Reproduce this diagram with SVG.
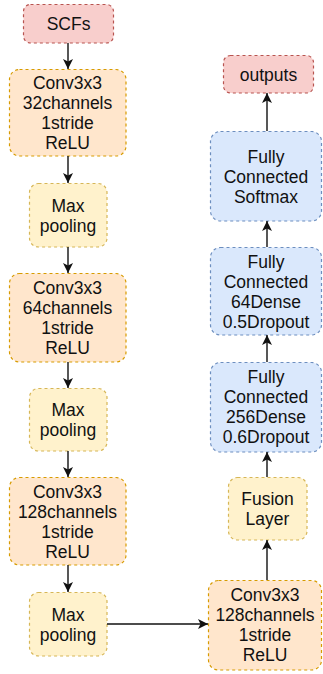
<svg xmlns="http://www.w3.org/2000/svg" width="323" height="674" viewBox="0 0 323 674">
  <defs>
    <style>
      .box { stroke-width: 1.2; stroke-dasharray: 3 3; }
      .io { fill: #f8cecc; stroke: #b85450; }
      .conv { fill: #ffe6cc; stroke: #d79b00; }
      .pool { fill: #fff2cc; stroke: #d6b656; }
      .fc { fill: #dae8fc; stroke: #6c8ebf; }
      text { font-family: "Liberation Sans", Arial, Helvetica, sans-serif; font-size: 17.5px; fill: #111; text-anchor: middle; }
      .edge { fill: none; stroke: #111; stroke-width: 1.4; marker-end: url(#arrow); }
    </style>
    <marker id="arrow" markerUnits="userSpaceOnUse" markerWidth="11" markerHeight="10" refX="10" refY="5" orient="auto">
      <path d="M0,0 L10,5 L0,10 L2.5,5 Z" fill="#111"/>
    </marker>
  </defs>

  <!-- left column: convolution / pooling stack -->
  <g id="scfs">
    <rect class="box io" x="23.5" y="4.5" width="90" height="38.5" rx="7"/>
    <text x="68.5" y="30">SCFs</text>
  </g>
  <g id="conv1">
    <rect class="box conv" x="9.5" y="69.5" width="116.5" height="86.5" rx="10"/>
    <text x="67.5" y="89">Conv3x3</text>
    <text x="67.5" y="109">32channels</text>
    <text x="67.5" y="129">1stride</text>
    <text x="67.5" y="149">ReLU</text>
  </g>
  <g id="pool1">
    <rect class="box pool" x="29.5" y="183.5" width="77.5" height="63.5" rx="9"/>
    <text x="68" y="211.5">Max</text>
    <text x="68" y="231.5">pooling</text>
  </g>
  <g id="conv2">
    <rect class="box conv" x="9.5" y="273.5" width="116.5" height="88.5" rx="10"/>
    <text x="67.5" y="294">Conv3x3</text>
    <text x="67.5" y="314">64channels</text>
    <text x="67.5" y="334">1stride</text>
    <text x="67.5" y="354">ReLU</text>
  </g>
  <g id="pool2">
    <rect class="box pool" x="29.5" y="388.5" width="77.5" height="62.5" rx="9"/>
    <text x="68" y="416">Max</text>
    <text x="68" y="436">pooling</text>
  </g>
  <g id="conv3">
    <rect class="box conv" x="9.5" y="477.5" width="116.5" height="87.5" rx="10"/>
    <text x="67.5" y="497.5">Conv3x3</text>
    <text x="67.5" y="517.5">128channels</text>
    <text x="67.5" y="537.5">1stride</text>
    <text x="67.5" y="557.5">ReLU</text>
  </g>
  <g id="pool3">
    <rect class="box pool" x="29.5" y="592.5" width="77.5" height="63.5" rx="9"/>
    <text x="68" y="620.5">Max</text>
    <text x="68" y="640.5">pooling</text>
  </g>

  <!-- right column: fusion and dense layers -->
  <g id="conv4">
    <rect class="box conv" x="208.5" y="580.5" width="113" height="89.5" rx="10"/>
    <text x="265" y="601">Conv3x3</text>
    <text x="265" y="621">128channels</text>
    <text x="265" y="641">1stride</text>
    <text x="265" y="661">ReLU</text>
  </g>
  <g id="fusion">
    <rect class="box pool" x="228.5" y="477.5" width="78.5" height="62.5" rx="9"/>
    <text x="267.5" y="505">Fusion</text>
    <text x="267.5" y="525">Layer</text>
  </g>
  <g id="fc256">
    <rect class="box fc" x="210.5" y="362.5" width="111" height="89.5" rx="10"/>
    <text x="266" y="383">Fully</text>
    <text x="266" y="403">Connected</text>
    <text x="266" y="423">256Dense</text>
    <text x="266" y="443">0.6Dropout</text>
  </g>
  <g id="fc64">
    <rect class="box fc" x="210.5" y="247.5" width="111" height="87.5" rx="10"/>
    <text x="266" y="267.5">Fully</text>
    <text x="266" y="287.5">Connected</text>
    <text x="266" y="307.5">64Dense</text>
    <text x="266" y="327.5">0.5Dropout</text>
  </g>
  <g id="fcsoftmax">
    <rect class="box fc" x="210.5" y="131.5" width="111" height="89.5" rx="10"/>
    <text x="266" y="163">Fully</text>
    <text x="266" y="183">Connected</text>
    <text x="266" y="203">Softmax</text>
  </g>
  <g id="outputs">
    <rect class="box io" x="223.5" y="55.5" width="90" height="37.5" rx="7"/>
    <text x="268.5" y="81">outputs</text>
  </g>

  <!-- connectors -->
  <g id="connectors">
    <path class="edge" d="M68,43 L68,69"/>
    <path class="edge" d="M68,156 L68,183"/>
    <path class="edge" d="M68,247 L68,273"/>
    <path class="edge" d="M68,362 L68,388"/>
    <path class="edge" d="M68,451 L68,477"/>
    <path class="edge" d="M68,565 L68,592"/>
    <path class="edge" d="M107,624 L208,624"/>
    <path class="edge" d="M267,580 L267,540"/>
    <path class="edge" d="M267,477 L267,452"/>
    <path class="edge" d="M267,362 L267,335"/>
    <path class="edge" d="M267,247 L267,221"/>
    <path class="edge" d="M267,131 L267,93"/>
  </g>
</svg>
